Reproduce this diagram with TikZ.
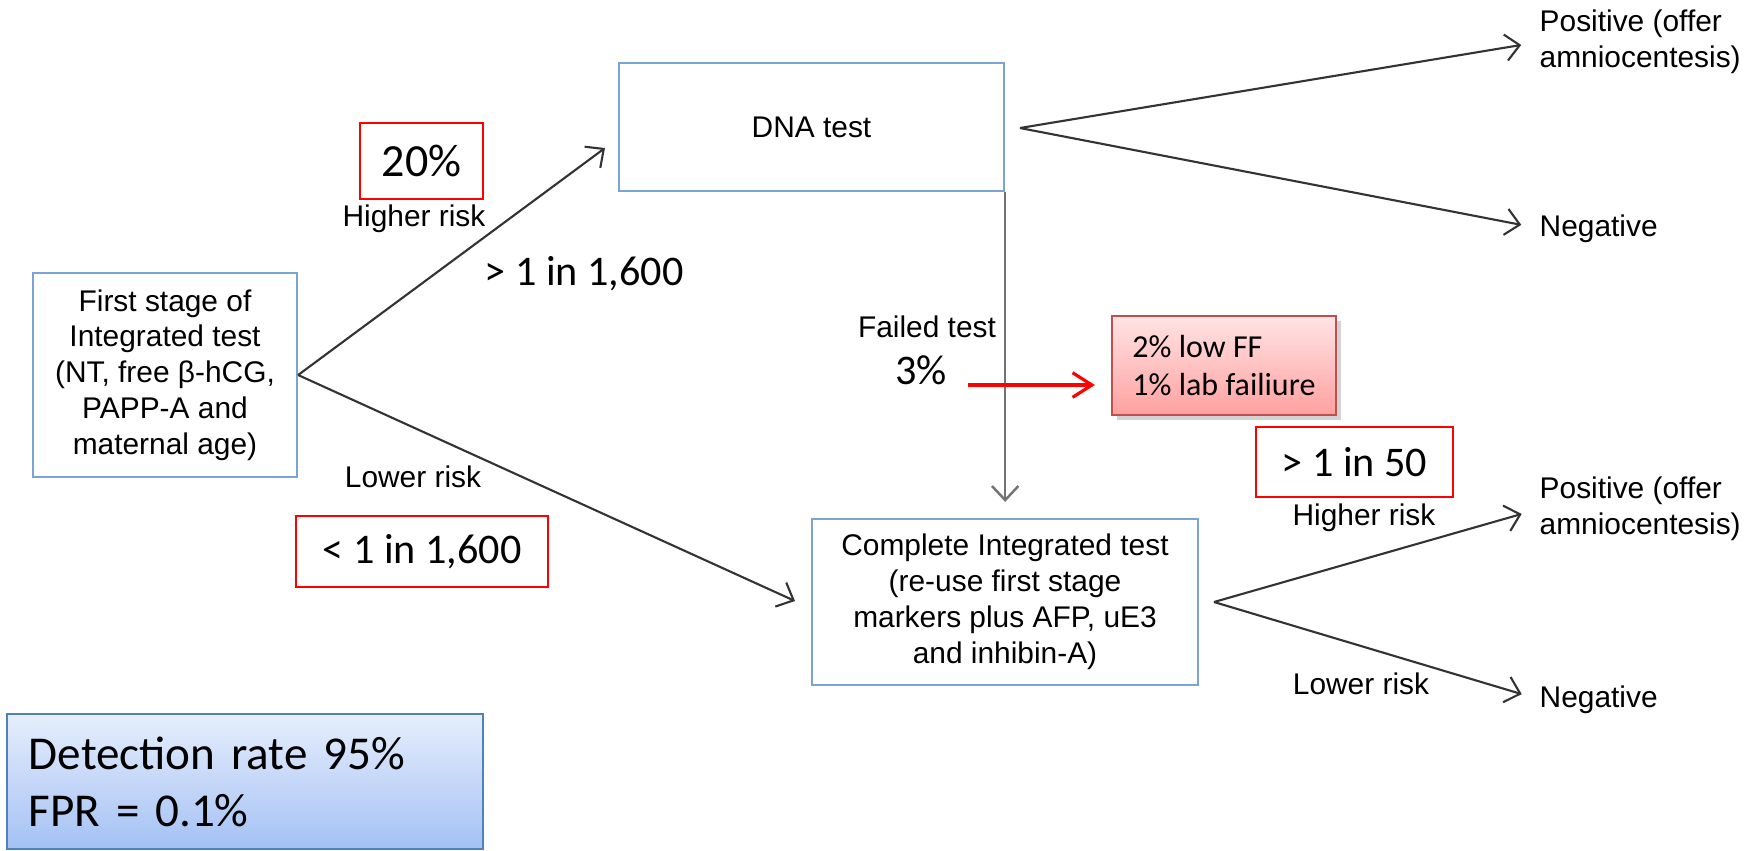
\documentclass[tikz,border=0pt]{standalone}
\usepackage{fontspec}
\setmainfont{Liberation Sans}
\newfontfamily\calibri{Carlito}
\usetikzlibrary{arrows.meta,shadows}

\definecolor{boxblue}{HTML}{7BA3D6}
\definecolor{calloutred}{HTML}{C0504D}
\definecolor{pinktop}{HTML}{FFE4E4}
\definecolor{pinkbot}{HTML}{FFA0A0}
\definecolor{dettop}{HTML}{E6EEFC}
\definecolor{detbot}{HTML}{A4C1F4}
\definecolor{detblue}{HTML}{4F81BD}

\begin{document}
\begin{tikzpicture}[x=0.01cm, y=-0.01cm,
	blk/.style={draw=boxblue, line width=0.6pt, align=center, inner sep=0pt, font=\fontsize{8.5}{10.2}\selectfont},
	lbl/.style={inner sep=0pt, font=\fontsize{8.5}{10.2}\selectfont},
	big/.style={inner sep=0pt, font=\calibri\fontsize{12}{14}\selectfont},
	redbox/.style={big, draw=red, line width=0.75pt},
	arr/.style={draw=black!80, line width=0.6pt, -{Straight Barb[length=4pt,width=7.5pt]}},
	redarr/.style={draw=red, line width=0.9pt, -{Straight Barb[length=5.5pt,width=7pt]}}]
			%%%%% START %%%%%
			\useasboundingbox (0, 0) rectangle (1762, 850);
			
			% test boxes
			\node[blk, minimum width=2.64cm, minimum height=2.04cm] (first) at (165, 375) {First stage of\\Integrated test\\(NT, free β-hCG,\\PAPP-A and\\maternal age)};
			\node[blk, minimum width=3.85cm, minimum height=1.28cm] (dna) at (811.5, 127) {DNA test};
			\node[blk, minimum width=3.86cm, minimum height=1.66cm] (complete) at (1005, 602) {Complete Integrated test\\(re-use first stage\\markers plus AFP, uE3\\and inhibin-A)};
			
			% outcomes
			\node[lbl, anchor=west, align=left] (posA) at (1539, 42) {Positive (offer\\amniocentesis)};
			\node[lbl, anchor=base west] (negA) at (1539, 236) {Negative};
			\node[lbl, anchor=west, align=left] (posB) at (1539, 509) {Positive (offer\\amniocentesis)};
			\node[lbl, anchor=base west] (negB) at (1539, 707) {Negative};
			
			% risk labels
			\node[lbl, anchor=base] (hiA) at (414, 226) {Higher risk};
			\node[lbl, anchor=base] (loA) at (413, 487) {Lower risk};
			\node[lbl, anchor=base] (hiB) at (1364, 525) {Higher risk};
			\node[lbl, anchor=base] (loB) at (1361, 694) {Lower risk};
			\node[lbl, anchor=base] (failed) at (927, 337) {Failed test};
			
			% cut-offs and rates
			\node[redbox, minimum width=1.23cm, minimum height=0.76cm, font=\calibri\fontsize{13.1}{15}\selectfont] (pctdna) at (421.5, 161) {20\%};
			\node[big, anchor=base] (cutA) at (584, 285) {> 1 in 1,600};
			\node[redbox, minimum width=2.52cm, minimum height=0.71cm] (cutB) at (422, 551.5) {< 1 in 1,600\hspace{0.16cm}};
			\node[redbox, minimum width=1.97cm, minimum height=0.70cm] (cutC) at (1354.5, 462) {> 1 in 50};
			\node[big, anchor=base] (pctfail) at (921, 384) {3\%};
			
			\node[draw=calloutred, line width=0.6pt, top color=pinktop, bottom color=pinkbot,
				drop shadow={shadow xshift=1.5pt, shadow yshift=-1.5pt, opacity=0.35},
				minimum width=2.24cm, minimum height=0.99cm, align=left, inner sep=0pt,
				font=\calibri\fontsize{9.1}{10.8}\selectfont] (why) at (1224, 365.5) {2\% low FF\\1\% lab failiure};
			
			\node[draw=detblue, line width=0.75pt, top color=dettop, bottom color=detbot,
				minimum width=4.76cm, minimum height=1.35cm, text width=4.32cm, inner xsep=0.22cm, align=left,
				font=\calibri\fontsize{13.4}{16.2}\selectfont] (rate) at (245, 781.5) {Detection rate 95\%\\FPR = 0.1\%};
			
			% connectors
			\coordinate (tipA) at (605, 148);
			\coordinate (tipB) at (795, 601);
			\coordinate (dnafork) at (1020, 128);
			\coordinate (compfork) at (1214, 602);
			\coordinate (redstart) at (968, 385);
			
			\draw[arr] (first.east) -- (tipA);
			\draw[arr] (first.east) -- (tipB);
			\draw[arr] (dnafork) -- (posA.west) [shorten >=0.18cm];
			\draw[arr] (dnafork) -- (negA.west) [shorten >=0.18cm];
			\draw[arr] (compfork) -- (posB.west) [shorten >=0.18cm];
			\draw[arr] (compfork) -- (negB.west) [shorten >=0.18cm];
			\draw[arr, draw=black!55, line width=0.7pt] (dna.south east) -- (dna.south east |- complete.north) [shorten >=0.16cm];
			\draw[redarr] (redstart) -- (redstart -| why.west) [shorten >=0.16cm];
			
			%%%%% END %%%%%
\end{tikzpicture}
\end{document}
